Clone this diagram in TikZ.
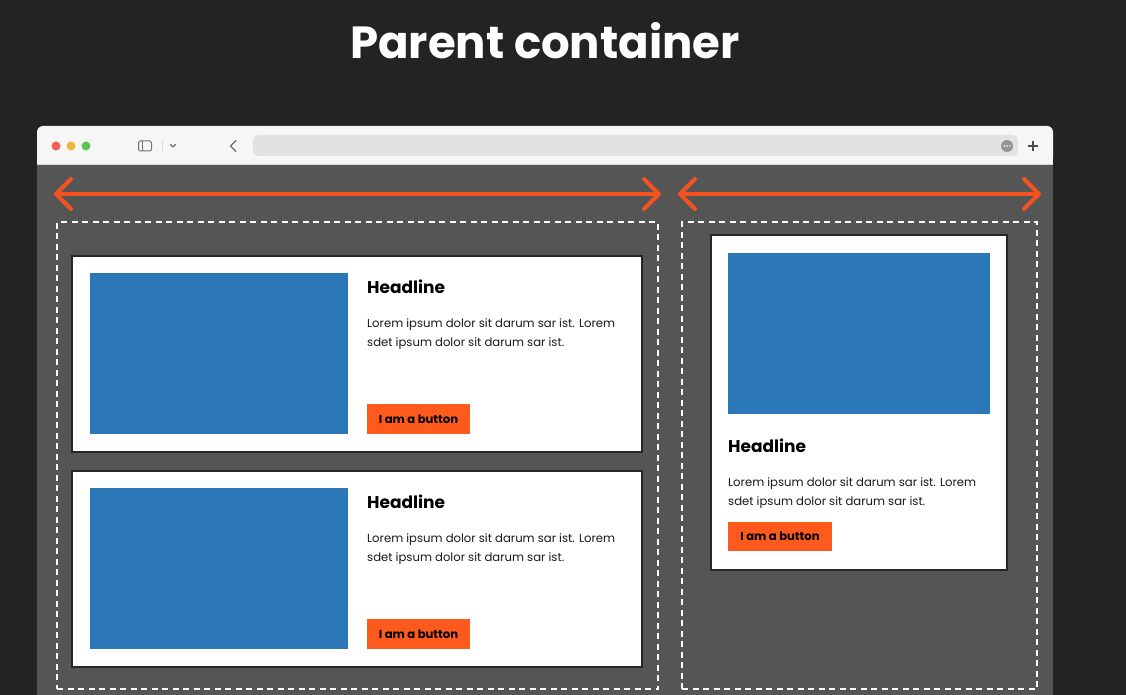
\documentclass[tikz,border=0pt]{standalone}
\usepackage{fontspec}
\setmainfont{Poppins}
\usetikzlibrary{arrows.meta}
\definecolor{bg}{HTML}{232323}
\definecolor{toolbar}{HTML}{F6F6F6}
\definecolor{content}{HTML}{555555}
\definecolor{addr}{HTML}{E2E2E2}
\definecolor{imgblue}{HTML}{2B77B7}
\definecolor{orange}{HTML}{FF5A1E}
\definecolor{arrowc}{HTML}{F4521E}
\definecolor{icon}{HTML}{6E6E6E}
\definecolor{tlred}{HTML}{EC5F57}
\definecolor{tlyellow}{HTML}{F1B63A}
\definecolor{tlgreen}{HTML}{5EC453}
\tikzset{
  rect/.style={inner sep=0pt, outer sep=0pt, anchor=north west},
  dashbox/.style={rect, draw=white, line width=2.4pt, dash pattern=on 6pt off 4.5pt},
  card/.style={rect, fill=white, draw=black!85, line width=1.1pt},
  img/.style={rect, fill=imgblue},
  btn/.style={rect, fill=orange, text=black, font=\fontsize{11.6}{13}\selectfont\bfseries,
    minimum width=103pt, minimum height=30pt},
  head/.style={anchor=base west, inner sep=0pt, text=black, font=\fontsize{17}{20}\selectfont\bfseries},
  body/.style={anchor=base west, inner sep=0pt, text=black!90, font=\fontsize{11.65}{14}\selectfont},
  light/.style={circle, inner sep=0pt, minimum size=9pt},
  arr/.style={draw=arrowc, line width=4pt,
    {Straight Barb[length=15pt,width=30pt,round]}-{Straight Barb[length=15pt,width=30pt,round]}},
  ico/.style={draw=icon, line width=1.1pt, line cap=round, line join=round},
}
\begin{document}
\begin{tikzpicture}[x=1pt,y=-1pt]
\useasboundingbox (0,0) rectangle (1126,695);
\fill[bg] (0,0) rectangle (1126,695);

% title
\node[anchor=base, inner sep=0pt, text=white, font=\fontsize{45}{50}\selectfont\bfseries] (title) at (545,59) {Parent container};

% browser window: toolbar with rounded top corners, then the viewport
\fill[toolbar, rounded corners=6pt] (37,126) rectangle (1053,164);
\fill[toolbar] (37,145) rectangle (1053,164);
\node[rect, fill=content, minimum width=1016pt, minimum height=531pt] (view) at (37,164) {};
\draw[black!15, line width=0.6pt] (37,164) -- (1053,164);

% toolbar
\node[light, fill=tlred] (close) at (56,146) {};
\node[light, fill=tlyellow] (mini) at (71,146) {};
\node[light, fill=tlgreen] (zoom) at (86,146) {};
\node[draw=icon, line width=1pt, rounded corners=1.5pt, inner sep=0pt, minimum width=13pt, minimum height=10pt] (side) at (145,146) {};
\draw[icon, line width=1pt] (142.5,141) -- (142.5,151);
\draw[black!12, line width=0.8pt] (162,140) -- (162,152);
\draw[ico] (170.5,144.5) -- (173,147) -- (175.5,144.5);
\draw[ico, line width=1.3pt] (236,140.5) -- (230.5,146) -- (236,151.5);
\node[rect, fill=addr, rounded corners=5pt, minimum width=765pt, minimum height=21pt] (url) at (253,135) {};
\node[circle, fill=black!42, inner sep=0pt, minimum size=12pt] (more) at (1007,146) {};
\foreach \dx in {-2.8,0,2.8} \fill[white] (1007+\dx,146) circle (0.8pt);
\draw[black!70, line width=1.1pt] (1028,146) -- (1038,146) (1033,141) -- (1033,151);

% width arrows
\coordinate (a1l) at (54,194);
\coordinate (a1r) at (661,194);
\coordinate (a2l) at (678,194);
\coordinate (a2r) at (1041,194);
\draw[arr] (a1l) -- (a1r);
\draw[arr] (a2l) -- (a2r);

% column containers
\node[dashbox, minimum width=601pt, minimum height=467pt] (colL) at (57,222) {};
\node[dashbox, minimum width=355pt, minimum height=467pt] (colR) at (682,222) {};

% left column: card 1
\node[card, minimum width=570pt, minimum height=196pt] (c1) at (72,256) {};
\node[img, minimum width=258pt, minimum height=161pt] (i1) at (90,273) {};
\node[head] (h1) at (367,293) {Headline};
\node[body] (t1a) at (367,327) {Lorem ipsum dolor sit darum sar ist. Lorem};
\node[body] (t1b) at (367,346) {sdet ipsum dolor sit darum sar ist.};
\node[btn] (b1) at (367,404) {I am a button};

% left column: card 2
\node[card, minimum width=570pt, minimum height=196pt] (c2) at (72,471) {};
\node[img, minimum width=258pt, minimum height=161pt] (i2) at (90,488) {};
\node[head] (h2) at (367,508) {Headline};
\node[body] (t2a) at (367,542) {Lorem ipsum dolor sit darum sar ist. Lorem};
\node[body] (t2b) at (367,561) {sdet ipsum dolor sit darum sar ist.};
\node[btn] (b2) at (367,619) {I am a button};

% right column: stacked card
\node[card, minimum width=296pt, minimum height=335pt] (c3) at (711,235) {};
\node[img, minimum width=262pt, minimum height=161pt] (i3) at (728,253) {};
\node[head] (h3) at (728,452) {Headline};
\node[body] (t3a) at (728,486) {Lorem ipsum dolor sit darum sar ist. Lorem};
\node[body] (t3b) at (728,505) {sdet ipsum dolor sit darum sar ist.};
\node[btn, minimum width=104pt, minimum height=29pt] (b3) at (728,522) {I am a button};
\end{tikzpicture}
\end{document}
